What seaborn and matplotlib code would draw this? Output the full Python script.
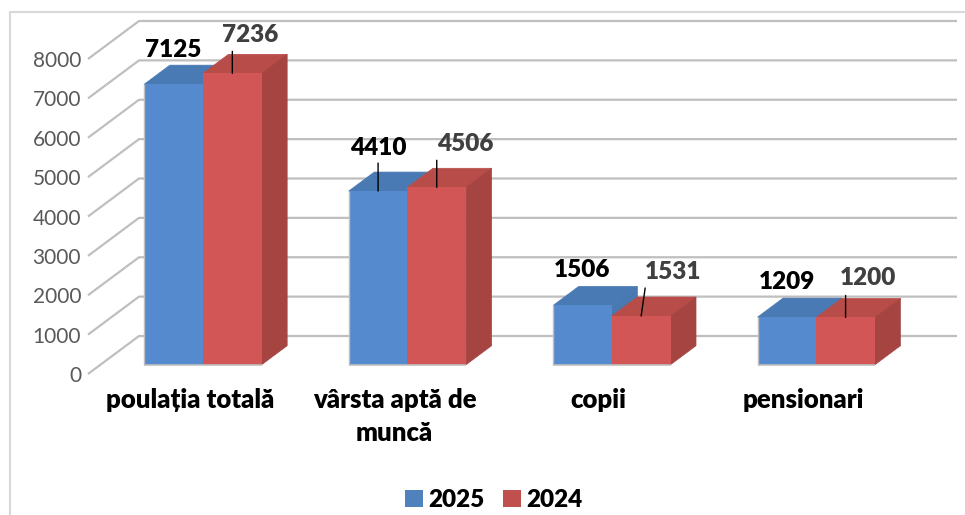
#!/usr/bin/env python3
"""3D-look clustered bars: population by category, 2025 vs 2024"""

import pandas as pd
import matplotlib.pyplot as plt
import seaborn as sns
from matplotlib.lines import Line2D
from matplotlib.patches import Patch, Polygon
from matplotlib.transforms import ScaledTranslation

categories = ['poulația totală', 'vârsta aptă de\nmuncă', 'copii', 'pensionari']
years = ['2025', '2024']
# bar heights as drawn
values_2025 = [7125, 4410, 1506, 1209]
values_2024 = [7400, 4506, 1237, 1200]
# numbers as printed above the bars
labels_2025 = ['7125', '4410', '1506', '1209']
labels_2024 = ['7236', '4506', '1531', '1200']
y_ticks = [0, 1000, 2000, 3000, 4000, 5000, 6000, 7000, 8000]

# Style configuration
sns.set_style("white")
plt.rcParams['font.family'] = ['Lato', 'DejaVu Sans']

W, H = 965, 515
PX_X = 204.4      # pixels per category
PX_V = 0.039375   # pixels per unit
DEPTH_X = 25.5 / PX_X
DEPTH_V = 19 / PX_V

FRONT = {'2025': '#558ACF', '2024': '#D25655'}
TOP = {'2025': '#4A7AB3', '2024': '#B84C48'}
SIDE = {'2025': '#4A78B0', '2024': '#A54440'}
LEGEND = {'2025': '#4F81BD', '2024': '#C0504D'}
GRID = '#BFBFBF'

df = pd.DataFrame({
    'categorie': categories * 2,
    'an': [years[0]] * 4 + [years[1]] * 4,
    'valoare': values_2025 + values_2024,
})

fig = plt.figure(figsize=(W / 100, H / 100), dpi=100)
ax = fig.add_axes([88 / W, 1 - 374 / H, (957 - 88) / W, (374 - 21) / H])

sns.barplot(data=df, x='categorie', y='valoare', hue='an', hue_order=years,
            palette=FRONT, saturation=1, width=0.574, gap=0, dodge=True,
            legend=False, ax=ax)

wall_left, wall_right = -0.5625, 3.6885
ax.set_xlim(wall_left, wall_right)
ax.set_ylim(-236, 8729)
ax.set_xlabel('')
ax.set_ylabel('')
sns.despine(ax=ax, left=True, bottom=True)

# Back wall grid
wall_back = wall_left + 51 / PX_X
for v in y_ticks:
    ax.plot([wall_left, wall_back, wall_right], [v - 236, v + 729, v + 729],
            color=GRID, lw=1.6, zorder=0, clip_on=False, solid_capstyle='butt')

# Tops and sides of the bars
for i, (year, bars) in enumerate(zip(years, ax.containers)):
    for bar in bars:
        x0, w, h = bar.get_x(), bar.get_width(), bar.get_height()
        x1 = x0 + w
        top = [(x0, h), (x1, h), (x1 + DEPTH_X, h + DEPTH_V), (x0 + DEPTH_X, h + DEPTH_V)]
        side = [(x1, 0), (x1 + DEPTH_X, DEPTH_V), (x1 + DEPTH_X, h + DEPTH_V), (x1, h)]
        ax.add_patch(Polygon(top, fc=TOP[year], ec=TOP[year], lw=0.5, zorder=2 + 2 * i))
        ax.add_patch(Polygon(side, fc=SIDE[year], ec=SIDE[year], lw=0.5, zorder=2 + 2 * i))
        bar.set_zorder(3 + 2 * i)
        bar.set_edgecolor('none')
        ax.plot([x0, x1], [0, 0], color=GRID, lw=1.2, zorder=6,
                solid_capstyle='butt')
        if i == 0:
            ax.plot([x0, x0], [0, h], color=GRID, lw=1.0, zorder=6,
                    solid_capstyle='butt')

# Data labels, offsets in pixels from the middle of each bar's top edge
offsets_2025 = [(0, 34), (0, 43), (0, 35), (0, 35)]
offsets_2024 = [(18, 38), (28, 43), (32, 44), (22, 39)]
leaders_2025 = [None, (0, 28), None, None]
leaders_2024 = [(0, 22), (0, 27), (4, 28), (0, 22)]

rows = [
    (ax.containers[0], labels_2025, offsets_2025, leaders_2025, 'black'),
    (ax.containers[1], labels_2024, offsets_2024, leaders_2024, '#404040'),
]
for bars, labels, offsets, leaders, color in rows:
    for bar, label, off, lead in zip(bars, labels, offsets, leaders):
        xy = (bar.get_x() + bar.get_width() / 2, bar.get_height())
        ax.annotate(label, xy=xy, xytext=off, textcoords='offset pixels',
                    ha='center', va='center', fontsize=17.5, fontweight='heavy',
                    color=color, zorder=9)
        if lead is not None:
            ax.annotate('', xy=xy, xytext=lead, textcoords='offset pixels', zorder=8,
                        arrowprops=dict(arrowstyle='-', color='black', lw=1,
                                        shrinkA=0, shrinkB=0))

# Axis labels
ax.set_yticks(y_ticks)
ax.set_xticks(range(len(categories)))
ax.set_xticklabels(categories, fontsize=18.5, fontweight='heavy', color='black',
                   linespacing=1.45)
ax.tick_params(axis='y', length=0, pad=5, labelsize=15, labelcolor='#595959')
ax.tick_params(axis='x', length=0, pad=10)
y_shift = ScaledTranslation(0, -9.3 / 100, fig.dpi_scale_trans)
for tick in ax.get_yticklabels():
    tick.set_transform(tick.get_transform() + y_shift)
x_shift = ScaledTranslation(-13 / 100, 0, fig.dpi_scale_trans)
for tick in ax.get_xticklabels():
    tick.set_transform(tick.get_transform() + x_shift)

# Legend
handles = [Patch(fc=LEGEND[y], ec='none', label=y) for y in years]
fig.legend(handles=handles, loc='center', bbox_to_anchor=(494 / W, 1 - 500 / H),
           ncol=2, frameon=False, prop={'size': 17.5, 'weight': 'heavy'},
           labelcolor='black', handlelength=0.72, handleheight=0.72,
           handletextpad=0.23, columnspacing=0.77, borderpad=0, borderaxespad=0)

# Chart frame
frame = dict(color='#D9D9D9', lw=1.5, transform=fig.transFigure)
fig.add_artist(Line2D([10 / W, 10 / W], [0, 1 - 12 / H], **frame))
fig.add_artist(Line2D([10 / W, 1], [1 - 12 / H, 1 - 12 / H], **frame))

plt.savefig('out.png', dpi=100)
plt.close()
